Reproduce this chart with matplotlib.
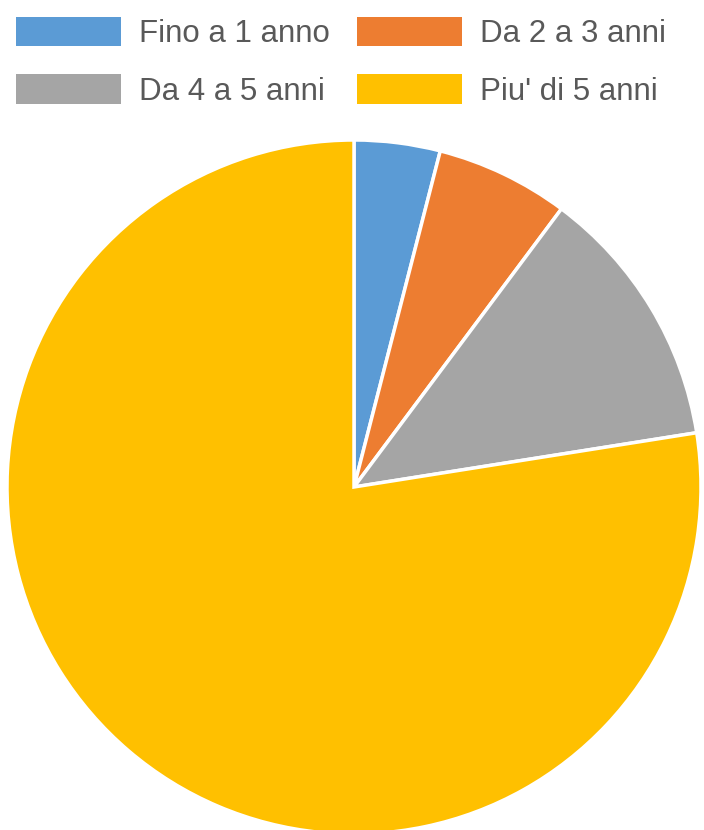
import matplotlib.pyplot as plt
from matplotlib.patches import Patch

plt.rcParams['font.family'] = ['Liberation Sans', 'DejaVu Sans']

# Data (shares in %)
labels = ['Fino a 1 anno', 'Da 2 a 3 anni', 'Da 4 a 5 anni', "Piu' di 5 anni"]
values = [4.0, 6.2, 12.3, 77.5]
colors = ['#5B9BD5', '#ED7D31', '#A5A5A5', '#FFC000']

fig = plt.figure(figsize=(7.04, 8.30), dpi=100)

# pie axes: centre ~ (354, 487) px, radius ~ 347 px
r_px = 347
cx, cy = 354, 830 - 487
ax = fig.add_axes([(cx - r_px) / 704, (cy - r_px) / 830, 2 * r_px / 704, 2 * r_px / 830])
ax.pie(values, colors=colors, startangle=90, counterclock=False, radius=1,
       wedgeprops=dict(edgecolor='white', linewidth=2.5))
ax.set_xlim(-1, 1)
ax.set_ylim(-1, 1)
ax.set_aspect('equal')
ax.axis('off')

# legend: column-first fill, so order blue, gray, orange, yellow
order = [0, 2, 1, 3]
handles = [Patch(facecolor=colors[i], edgecolor='none') for i in order]
leg = fig.legend(handles, [labels[i] for i in order], ncol=2,
                 loc='upper left', bbox_to_anchor=(16 / 704, 1 - 17 / 830),
                 frameon=False, fontsize=22.5, handlelength=3.36, handleheight=1.07,
                 handletextpad=0.58, columnspacing=0.86, labelspacing=0.8,
                 borderpad=0, borderaxespad=0)
for t in leg.get_texts():
    t.set_color('#595959')

plt.savefig('out.png', dpi=100)
